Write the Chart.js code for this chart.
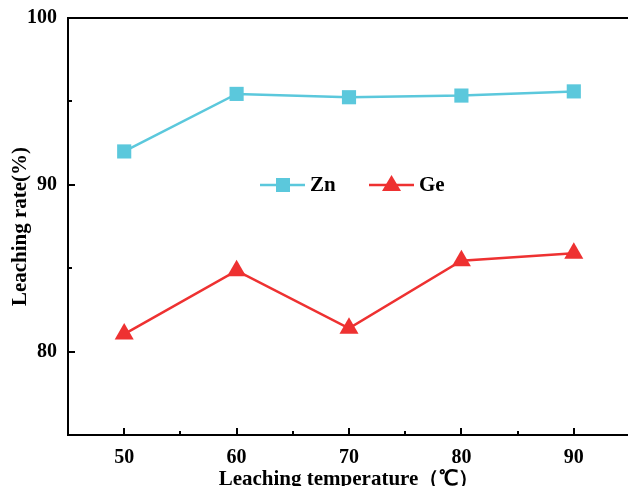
<!DOCTYPE html>
<html>
<head>
<meta charset="utf-8">
<script src="https://cdn.jsdelivr.net/npm/chart.js@4.4.0/dist/chart.umd.min.js"></script>
<style>
  html, body { margin: 0; padding: 0; background: #fff; overflow: hidden; }
  #wrap { width: 628px; height: 486px; overflow: hidden; }
</style>
</head>
<body>
<div id="wrap"><canvas id="leachChart" width="641" height="492"></canvas></div>
<script>
// Data
var temps = [50, 60, 70, 80, 90];
var znRate = [92.0, 95.45, 95.25, 95.35, 95.6];
var geRate = [81.05, 84.85, 81.4, 85.45, 85.9];
var xTicks = [50, 60, 70, 80, 90];
var yTicks = [80, 90, 100];

var znColor = '#5BC8DC';
var geColor = '#EE3131';
var font = 'Liberation Serif, Times New Roman, serif';

// Inside ticks, frame top line and the legend in the plot
var extras = {
  id: 'extras',
  afterDraw: function (chart) {
    var c = chart.ctx;
    var x = chart.scales.x, y = chart.scales.y, a = chart.chartArea;
    c.save();
    c.strokeStyle = '#000';
    c.lineWidth = 2;
    c.beginPath();
    c.moveTo(a.left, a.top);
    c.lineTo(a.right, a.top);
    // x ticks (major + minor), pointing up into the plot
    for (var v = 45; v <= 95; v += 5) {
      var px = Math.round(x.getPixelForValue(v));
      var len = (v % 10 === 0) ? 7 : 4;
      c.moveTo(px, a.bottom);
      c.lineTo(px, a.bottom - len);
    }
    // y ticks pointing right
    for (var w = 75; w <= 100; w += 5) {
      var py = Math.round(y.getPixelForValue(w));
      var len2 = (w % 10 === 0) ? 7 : 4;
      c.moveTo(a.left, py);
      c.lineTo(a.left + len2, py);
    }
    c.stroke();

    // legend
    var ly = 185;
    c.lineWidth = 2.5;
    c.strokeStyle = znColor;
    c.beginPath(); c.moveTo(260, ly); c.lineTo(305, ly); c.stroke();
    c.fillStyle = znColor;
    c.fillRect(276, ly - 7, 14, 14);
    c.strokeStyle = geColor;
    c.beginPath(); c.moveTo(369, ly); c.lineTo(414, ly); c.stroke();
    c.fillStyle = geColor;
    c.beginPath();
    c.moveTo(391.5, ly - 10); c.lineTo(401, ly + 6); c.lineTo(382, ly + 6); c.closePath();
    c.fill();
    c.fillStyle = '#000';
    c.font = 'bold 21px ' + font;
    c.textBaseline = 'middle';
    c.fillText('Zn', 310, ly + 1);
    c.fillText('Ge', 419, ly + 1);
    c.restore();
  }
};

var ctx = document.getElementById('leachChart').getContext('2d');
new Chart(ctx, {
  type: 'line',
  data: {
    datasets: [{
      label: 'Zn',
      data: temps.map(function (t, i) { return { x: t, y: znRate[i] }; }),
      borderColor: znColor,
      backgroundColor: znColor,
      borderWidth: 2.5,
      pointStyle: 'rect',
      pointRadius: 10,
      pointBorderWidth: 0
    }, {
      label: 'Ge',
      data: temps.map(function (t, i) { return { x: t, y: geRate[i] }; }),
      borderColor: geColor,
      backgroundColor: geColor,
      borderWidth: 2.5,
      pointStyle: 'triangle',
      pointRadius: 11,
      pointBorderWidth: 0
    }]
  },
  options: {
    responsive: false,
    animation: false,
    layout: { padding: { top: 18, right: 0, left: 0, bottom: 0 } },
    plugins: { legend: { display: false }, tooltip: { enabled: false } },
    scales: {
      x: {
        type: 'linear',
        min: 45,
        max: 95,
        afterBuildTicks: function (s) { s.ticks = xTicks.map(function (v) { return { value: v }; }); },
        afterFit: function (s) { s.height = 57; },
        grid: { display: false },
        border: { display: true, color: '#000', width: 2 },
        ticks: {
          color: '#000',
          padding: 3,
          font: { family: font, size: 20, weight: 'bold' }
        },
        title: {
          display: true,
          text: 'Leaching temperature（℃）',
          color: '#000',
          padding: { top: 0, bottom: 0 },
          font: { family: font, size: 21, weight: 'bold' }
        }
      },
      y: {
        min: 75,
        max: 100,
        afterBuildTicks: function (s) { s.ticks = yTicks.map(function (v) { return { value: v }; }); },
        afterFit: function (s) { s.width = 68; },
        grid: { display: false },
        border: { display: true, color: '#000', width: 2 },
        ticks: {
          color: '#000',
          padding: 3,
          font: { family: font, size: 20, weight: 'bold' }
        },
        title: {
          display: true,
          text: 'Leaching rate(%)',
          color: '#000',
          padding: { top: 8, bottom: 0 },
          font: { family: font, size: 21, weight: 'bold' }
        }
      }
    }
  },
  plugins: [extras]
});
</script>
</body>
</html>
